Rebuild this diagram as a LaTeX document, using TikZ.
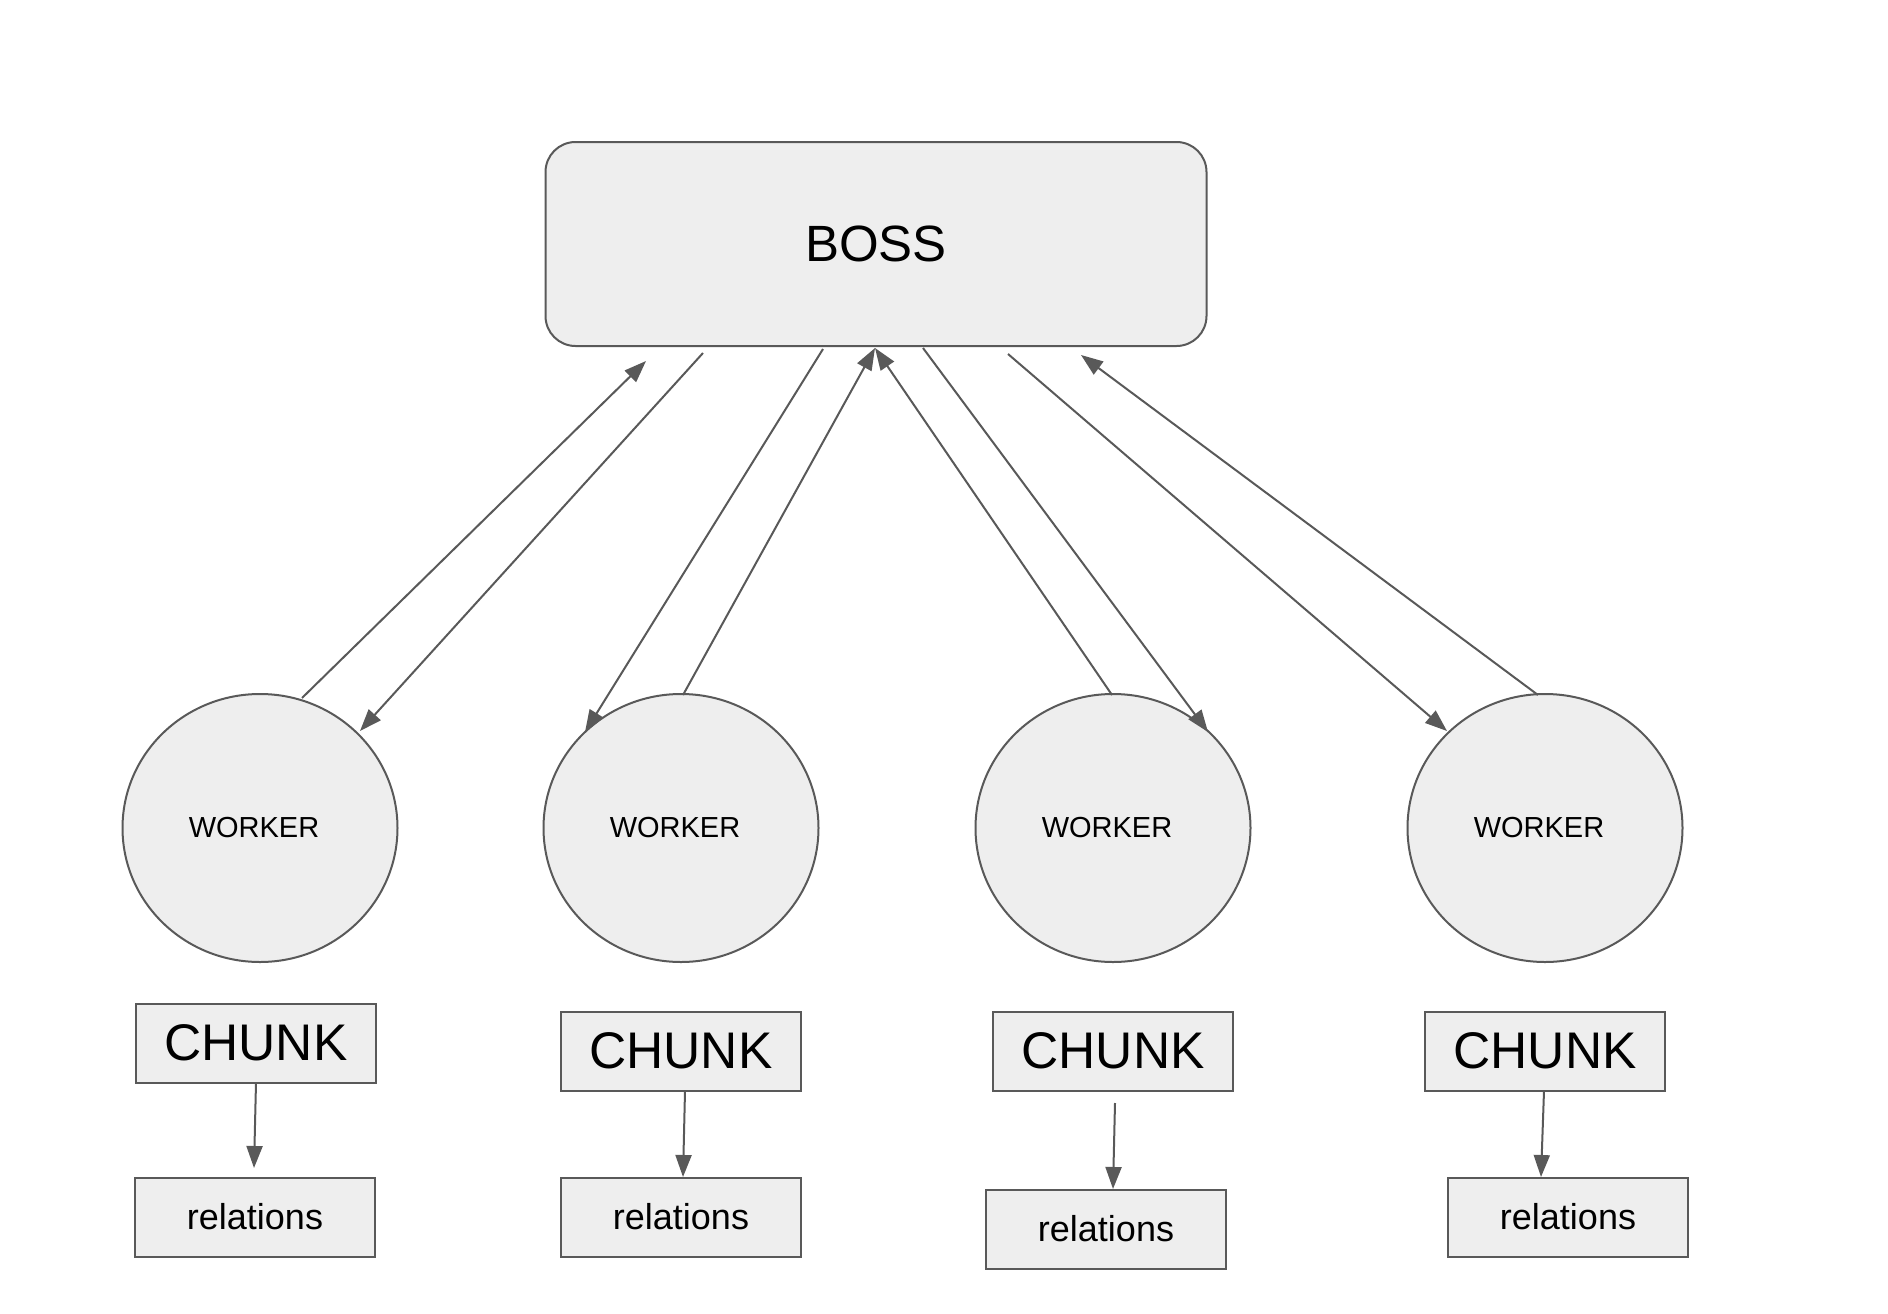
\documentclass[tikz,border=0pt]{standalone}
\usepackage{fontspec}
\setmainfont{Liberation Sans}
\usetikzlibrary{arrows.meta,shapes.geometric}
\definecolor{lc}{HTML}{595959}
\definecolor{fc}{HTML}{EEEEEE}
\begin{document}
\begin{tikzpicture}[x=1pt,y=-1pt,
  every node/.style={inner sep=0pt,outer sep=0pt},
  bossbox/.style={draw=lc,fill=fc,line width=2pt,rounded corners=30pt,minimum width=661pt,minimum height=204pt,font=\fontsize{51}{60}\selectfont},
  workerc/.style={draw=lc,fill=fc,line width=2pt,ellipse,minimum width=275pt,minimum height=268pt,font=\fontsize{29}{34}\selectfont},
  chunkbox/.style={draw=lc,fill=fc,line width=2pt,minimum width=240pt,minimum height=79pt,font=\fontsize{51.5}{60}\selectfont},
  relbox/.style={draw=lc,fill=fc,line width=2pt,minimum width=240pt,minimum height=79pt,font=\fontsize{36}{42}\selectfont},
  conn/.style={draw=lc,line width=2pt,-{Triangle[length=22pt,width=16pt]}}
]
\useasboundingbox (0,0) rectangle (1888,1314);
\node[bossbox] (boss) at (876,244) {BOSS};
\node[workerc] (w1) at (260,828) {\hspace*{-12pt}WORKER};
\node[workerc] (w2) at (681,828) {\hspace*{-12pt}WORKER};
\node[workerc] (w3) at (1113,828) {\hspace*{-12pt}WORKER};
\node[workerc] (w4) at (1545,828) {\hspace*{-12pt}WORKER};
\node[chunkbox] (c1) at (256,1043) {CHUNK};
\node[chunkbox] (c2) at (681,1051) {CHUNK};
\node[chunkbox] (c3) at (1113,1051) {CHUNK};
\node[chunkbox] (c4) at (1545,1051) {CHUNK};
\node[relbox] (r1) at (255,1217) {relations};
\node[relbox] (r2) at (681,1217) {relations};
\node[relbox] (r3) at (1106,1229) {relations};
\node[relbox] (r4) at (1568,1217) {relations};
% free ends
\coordinate (b1) at (646,361);
\coordinate (b2) at (703,353);
\coordinate (b3) at (823,349);
\coordinate (bm) at (875,348);
\coordinate (b5) at (923,348);
\coordinate (b6) at (1008,354);
\coordinate (b7) at (1081,355);
\coordinate (w1t) at (302,698);
\coordinate (w1h) at (360,731);
\coordinate (w2h) at (585,732);
\coordinate (w2t) at (683,695);
\coordinate (w3t) at (1112,695);
\coordinate (w3h) at (1208,732);
\coordinate (w4h) at (1447,731);
\coordinate (w4t) at (1538,695);
\coordinate (c2s) at (685,1091);
\coordinate (r2e) at (683,1177);
\coordinate (c3s) at (1115,1103);
\coordinate (r3e) at (1113,1189);
\coordinate (r1e) at (254,1168);
\coordinate (c4s) at (1544,1091);
\coordinate (r4e) at (1541,1177);
\draw[conn] (w1t) -- (b1);
\draw[conn] (b2) -- (w1h);
\draw[conn] (b3) -- (w2h);
\draw[conn] (w2t) -- (bm);
\draw[conn] (w3t) -- (bm);
\draw[conn] (b5) -- (w3h);
\draw[conn] (b6) -- (w4h);
\draw[conn] (w4t) -- (b7);
\draw[conn] (c1.south) -- (r1e);
\draw[conn] (c2s) -- (r2e);
\draw[conn] (c3s) -- (r3e);
\draw[conn] (c4s) -- (r4e);
\end{tikzpicture}
\end{document}
